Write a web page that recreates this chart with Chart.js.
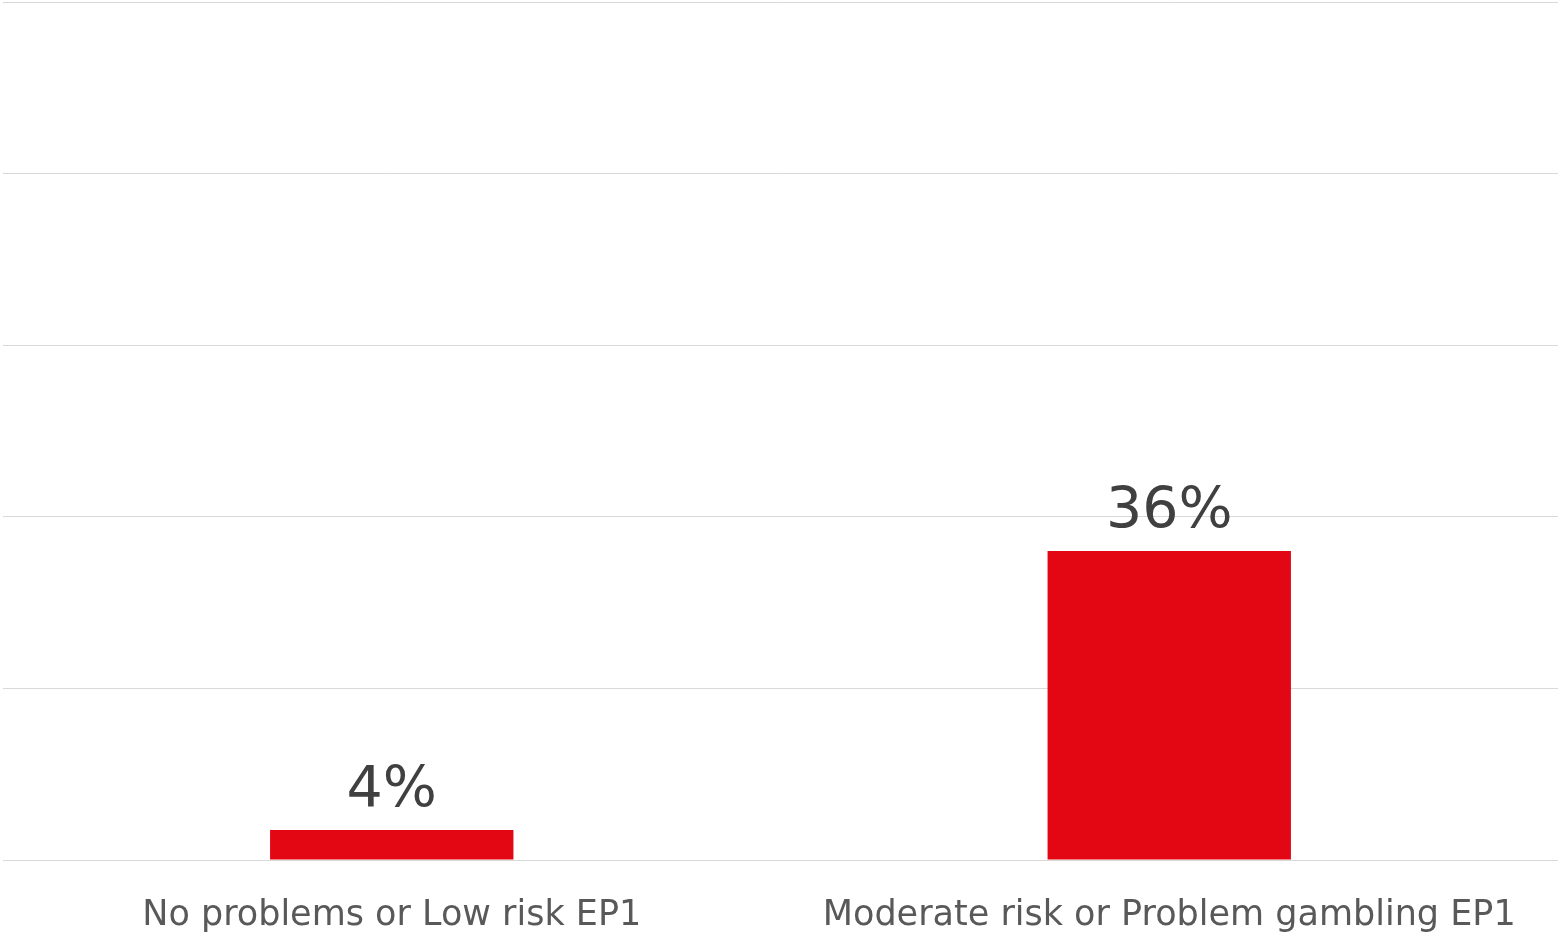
<!DOCTYPE html>
<html>
<head>
<meta charset="utf-8">
<script src="https://cdn.jsdelivr.net/npm/chart.js@4/dist/chart.umd.min.js"></script>
<style>
html,body{margin:0;padding:0;background:#fff;}
#wrap{position:relative;width:1558px;height:936px;}
</style>
</head>
<body>
<div id="wrap"><canvas id="c"></canvas></div>
<script>
const categories = ['No problems or Low risk EP1', 'Moderate risk or Problem gambling EP1'];
const values = [3.5, 36];
const yTicks = [0, 20, 40, 60, 80, 100];

const valueLabels = {
  id: 'valueLabels',
  afterDatasetsDraw(chart) {
    const ctx = chart.ctx;
    const meta = chart.getDatasetMeta(0);
    ctx.save();
    ctx.font = '57px "DejaVu Sans"';
    ctx.fillStyle = '#404040';
    ctx.textAlign = 'center';
    ctx.textBaseline = 'alphabetic';
    meta.data.forEach((bar, i) => {
      ctx.fillText(Math.round(values[i]) + '%', bar.x, bar.y - 23);
    });
    ctx.restore();
  }
};

new Chart(document.getElementById('c'), {
  type: 'bar',
  data: {
    labels: categories,
    datasets: [{
      data: values,
      backgroundColor: '#e30613',
      borderWidth: 0,
      barPercentage: 0.313,
      categoryPercentage: 1
    }]
  },
  options: {
    responsive: true,
    maintainAspectRatio: false,
    animation: false,
    devicePixelRatio: 1,
    layout: { padding: { left: 3, right: 0, top: 2, bottom: 0 } },
    plugins: { legend: { display: false }, tooltip: { enabled: false } },
    scales: {
      x: {
        afterFit(axis) { axis.height = 76; },
        grid: { display: false, drawTicks: false },
        border: { display: true, color: '#d9d9d9', width: 1 },
        ticks: { color: '#595959', font: { family: 'DejaVu Sans', size: 35 }, padding: 35, maxRotation: 0 }
      },
      y: {
        min: 0, max: 100,
        afterBuildTicks(axis) { axis.ticks = yTicks.map(v => ({ value: v })); },
        ticks: { display: false },
        border: { display: false },
        grid: { color: '#d9d9d9', lineWidth: 1, drawTicks: false }
      }
    }
  },
  plugins: [valueLabels]
});
</script>
</body>
</html>
